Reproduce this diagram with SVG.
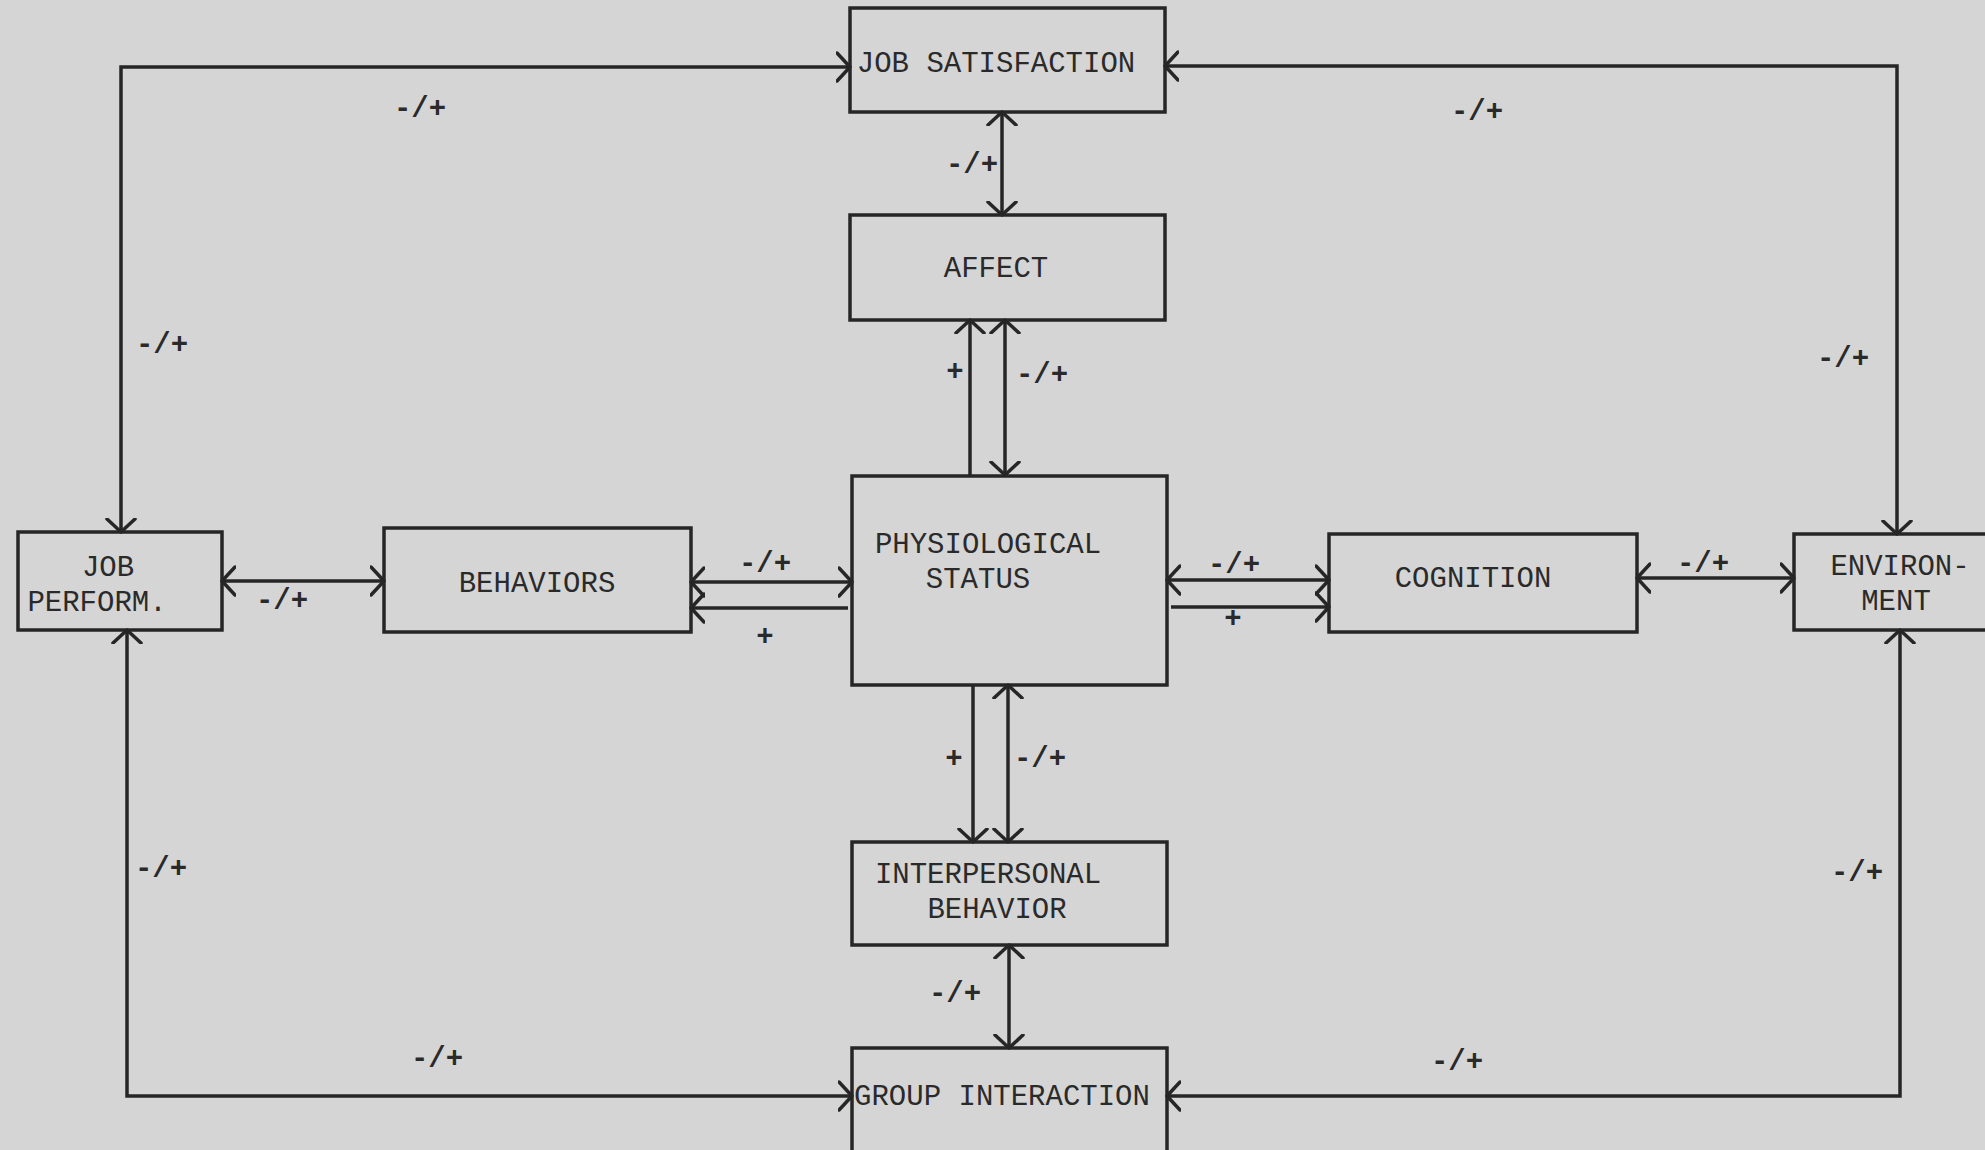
<svg xmlns="http://www.w3.org/2000/svg" width="1985" height="1150" viewBox="0 0 1985 1150">
<defs>
<marker id="ah" viewBox="0 0 16 32" refX="14" refY="16" markerWidth="16" markerHeight="32" markerUnits="userSpaceOnUse" orient="auto-start-reverse">
<path d="M1,2 L14,16 L1,30" fill="none" stroke="#262626" stroke-width="3.5" stroke-linecap="round" stroke-linejoin="round"/>
</marker>
<style>
.box{fill:none;stroke:#262626;stroke-width:3.5}
.t{font-family:"Liberation Mono","DejaVu Sans Mono",monospace;font-size:29px;fill:#2a2a2a;text-anchor:middle}
.l{font-family:"Liberation Mono","DejaVu Sans Mono",monospace;font-size:29px;fill:#2a2a2a;text-anchor:middle;font-weight:bold}
.c{fill:none;stroke:#262626;stroke-width:3.5}
.b{marker-start:url(#ah);marker-end:url(#ah)}
.e{marker-end:url(#ah)}
</style>
</defs>
<rect x="0" y="0" width="1985" height="1150" fill="#d5d5d5"/>
<g id="connectors">
<path class="c b" d="M121,532 V67 H850"/>
<path class="c b" d="M1165,66 H1897 V534"/>
<path class="c b" d="M127,630 V1096 H852"/>
<path class="c b" d="M1167,1096 H1900 V630"/>
<path class="c b" d="M222,581 H384"/>
<path class="c b" d="M691,582 H852"/>
<path class="c e" d="M848,608 H691"/>
<path class="c b" d="M1167,580 H1329"/>
<path class="c e" d="M1171,607 H1329"/>
<path class="c b" d="M1637,578 H1794"/>
<path class="c b" d="M1002,112 V215"/>
<path class="c e" d="M970,475 V320"/>
<path class="c b" d="M1005,320 V475"/>
<path class="c e" d="M973,685 V842"/>
<path class="c b" d="M1008,685 V842"/>
<path class="c b" d="M1009,945 V1048"/>
</g>
<g id="labels">
<text class="l" x="420" y="117">-/+</text>
<text class="l" x="1477" y="120">-/+</text>
<text class="l" x="162" y="353">-/+</text>
<text class="l" x="1843" y="367">-/+</text>
<text class="l" x="161" y="877">-/+</text>
<text class="l" x="1857" y="881">-/+</text>
<text class="l" x="437" y="1067">-/+</text>
<text class="l" x="1457" y="1070">-/+</text>
<text class="l" x="282" y="609">-/+</text>
<text class="l" x="972" y="173">-/+</text>
<text class="l" x="955" y="380">+</text>
<text class="l" x="1042" y="383">-/+</text>
<text class="l" x="765" y="572">-/+</text>
<text class="l" x="765" y="645">+</text>
<text class="l" x="1234" y="573">-/+</text>
<text class="l" x="1233" y="627">+</text>
<text class="l" x="1703" y="572">-/+</text>
<text class="l" x="954" y="767">+</text>
<text class="l" x="1040" y="767">-/+</text>
<text class="l" x="955" y="1002">-/+</text>
</g>
<g id="job-satisfaction">
<rect class="box" x="850" y="8" width="315" height="104"/>
<text class="t" x="996" y="72">JOB SATISFACTION</text>
</g>
<g id="affect">
<rect class="box" x="850" y="215" width="315" height="105"/>
<text class="t" x="996" y="277">AFFECT</text>
</g>
<g id="job-performance">
<rect class="box" x="18" y="532" width="204" height="98"/>
<text class="t" x="108" y="576">JOB</text>
<text class="t" x="97" y="611">PERFORM.</text>
</g>
<g id="behaviors">
<rect class="box" x="384" y="528" width="307" height="104"/>
<text class="t" x="537" y="592">BEHAVIORS</text>
</g>
<g id="physiological-status">
<rect class="box" x="852" y="476" width="315" height="209"/>
<text class="t" x="988" y="553">PHYSIOLOGICAL</text>
<text class="t" x="978" y="588">STATUS</text>
</g>
<g id="cognition">
<rect class="box" x="1329" y="534" width="308" height="98"/>
<text class="t" x="1473" y="587">COGNITION</text>
</g>
<g id="environment">
<rect class="box" x="1794" y="534" width="200" height="96"/>
<text class="t" x="1900" y="575">ENVIRON-</text>
<text class="t" x="1896" y="610">MENT</text>
</g>
<g id="interpersonal-behavior">
<rect class="box" x="852" y="842" width="315" height="103"/>
<text class="t" x="988" y="883">INTERPERSONAL</text>
<text class="t" x="997" y="918">BEHAVIOR</text>
</g>
<g id="group-interaction">
<rect class="box" x="852" y="1048" width="315" height="120"/>
<text class="t" x="1002" y="1105">GROUP INTERACTION</text>
</g>
</svg>
